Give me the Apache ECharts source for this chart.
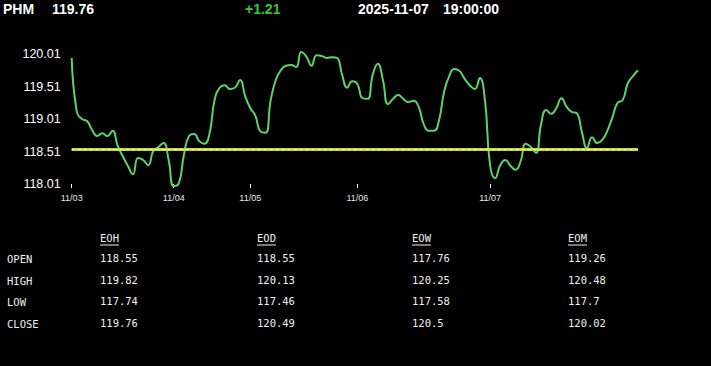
<!DOCTYPE html>
<html><head><meta charset="utf-8">
<script src="https://cdn.jsdelivr.net/npm/echarts@6/dist/echarts.min.js"></script>
<style>html,body{margin:0;padding:0;background:#000;}#c{width:711px;height:366px;}</style>
</head><body><div id="c"></div>
<script>
// ---- header ----
const symbolName = 'PHM';
const lastPrice = '119.76';
const changeText = '+1.21';
const dateText = '2025-11-07';
const timeText = '19:00:00';

// ---- x axis days ----
const dayLabels = ['11/03', '11/04', '11/05', '11/06', '11/07'];
const dayStarts = [0, 20, 35, 56, 82];

// ---- price series ----
const prices = [
  119.95, 119.12, 119.01, 118.98, 118.84, 118.75, 118.79, 118.75, 118.83, 118.60,
  118.44, 118.29, 118.16, 118.41, 118.38, 118.30, 118.52, 118.58, 118.64, 118.38,
  117.98, 118.02, 118.46, 118.75, 118.78, 118.67, 118.63, 118.78, 119.30, 119.49,
  119.53, 119.47, 119.49, 119.61, 119.36, 119.18, 119.06, 118.82, 118.80, 119.30,
  119.61, 119.76, 119.83, 119.84, 119.81, 120.04, 119.97, 119.83, 119.99, 119.98,
  119.95, 119.96, 119.95, 119.69, 119.49, 119.59, 119.55, 119.33, 119.32, 119.69,
  119.86, 119.61, 119.24, 119.32, 119.38, 119.32, 119.27, 119.29, 119.20, 118.93,
  118.83, 118.83, 118.99, 119.43, 119.67, 119.78, 119.75, 119.63, 119.53, 119.47,
  119.64, 119.30, 118.30, 118.10, 118.30, 118.38, 118.29, 118.23, 118.36, 118.63,
  118.58, 118.49, 118.93, 119.15, 119.09, 119.18, 119.33, 119.20, 119.12, 119.10,
  118.81, 118.56, 118.73, 118.64, 118.69, 118.83, 119.04, 119.26, 119.30, 119.56,
  119.67, 119.76
];
const openLevel = 118.55;

// ---- y axis ticks ----
const yMin = 118.01;
const yMax = 120.01;
const yStep = 0.5;

// ---- table ----
const tableCols = ['EOH', 'EOD', 'EOW', 'EOM'];
const tableRows = ['OPEN', 'HIGH', 'LOW', 'CLOSE'];
const eohValues = ['118.55', '119.82', '117.74', '119.76'];
const eodValues = ['118.55', '120.13', '117.46', '120.49'];
const eowValues = ['117.76', '120.25', '117.58', '120.5'];
const eomValues = ['119.26', '120.48', '117.7', '120.02'];

// build categories
const categories = prices.map((_, i) => {
  let k = 0;
  for (let j = 0; j < dayStarts.length; j++) if (dayStarts[j] <= i) k = j;
  return dayLabels[k];
});
const isDayStart = (idx) => dayStarts.indexOf(idx) >= 0;

const headFont = 'bold 14px "Liberation Sans", Arial, sans-serif';
const monoFont = '10.5px "DejaVu Sans Mono", monospace';
const graphics = [];
function txt(x, y, text, font, fill) {
  graphics.push({ type: 'text', x: x, y: y, silent: true,
    style: { text: text, font: font, fill: fill, textVerticalAlign: 'middle', textAlign: 'left' } });
}
txt(3, 9, symbolName, headFont, '#ffffff');
txt(52, 9, lastPrice, headFont, '#ffffff');
txt(245, 9, changeText, headFont, '#3ec43e');
txt(358, 9, dateText, headFont, '#ffffff');
txt(443, 9, timeText, headFont, '#ffffff');

const colX = [100, 257, 412, 568];
const rowY = [259, 281, 302, 324];
const headerY = 238;
const colValues = [eohValues, eodValues, eowValues, eomValues];
const charW = 10.5 * 0.602;
tableCols.forEach((c, ci) => {
  txt(colX[ci], headerY, c, monoFont, '#f0f0f0');
  graphics.push({ type: 'line', silent: true,
    shape: { x1: colX[ci], y1: headerY + 7, x2: colX[ci] + c.length * charW, y2: headerY + 7 },
    style: { stroke: '#f0f0f0', lineWidth: 1 } });
});
tableRows.forEach((r, ri) => {
  txt(7, rowY[ri], r, monoFont, '#f0f0f0');
  colValues.forEach((vals, ci) => txt(colX[ci], rowY[ri] - 1, vals[ri], monoFont, '#f0f0f0'));
});

const chart = echarts.init(document.getElementById('c'), null, { renderer: 'svg' });
chart.setOption({
  backgroundColor: '#000000',
  animation: false,
  grid: { left: 71.7, right: 73, top: 54, height: 130 },
  xAxis: {
    type: 'category',
    data: categories,
    boundaryGap: false,
    axisLine: { show: false },
    axisTick: { show: true, length: 4, interval: (i) => isDayStart(i), lineStyle: { color: '#ffffff', width: 1 } },
    axisLabel: { interval: (i) => isDayStart(i), color: '#e8e8e8', fontSize: 9, margin: 9,
      fontFamily: '"Liberation Sans", Arial, sans-serif' },
    splitLine: { show: false }
  },
  yAxis: {
    type: 'value',
    min: yMin, max: yMax, interval: yStep,
    axisLine: { show: false }, axisTick: { show: false }, splitLine: { show: false },
    axisLabel: { color: '#ffffff', fontSize: 12.5, margin: 11,
      fontFamily: '"Liberation Sans", Arial, sans-serif',
      formatter: (v) => v.toFixed(2) }
  },
  series: [{
    type: 'line',
    data: prices,
    smooth: 0.5,
    clip: false,
    showSymbol: false,
    lineStyle: { color: '#5cd36a', width: 2 },
    markLine: {
      silent: true,
      symbol: ['none', 'none'],
      label: { show: false },
      data: [
        { yAxis: openLevel, lineStyle: { color: '#c9d948', width: 3, type: 'solid' } },
        { yAxis: openLevel, lineStyle: { color: '#eef09a', width: 1, type: [3, 3] } }
      ]
    }
  }],
  graphic: graphics
});
</script></body></html>
